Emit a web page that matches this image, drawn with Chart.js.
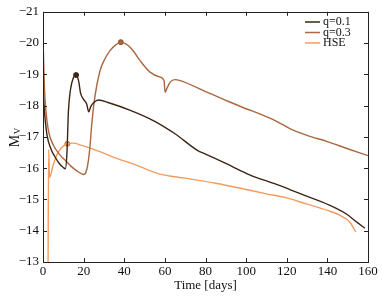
<!DOCTYPE html>
<html>
<head>
<meta charset="utf-8">
<script src="https://cdn.jsdelivr.net/npm/chart.js@4/dist/chart.umd.min.js"></script>
<style>
  html, body { margin: 0; padding: 0; background: #fff; }
  #wrap { width: 382px; height: 296px; }
</style>
</head>
<body>
<div id="wrap"><canvas id="myChart"></canvas></div>
<script>
// series data (time in days, M_V in mag)
const tQ01 = [0, 0.5, 1, 2, 4, 6, 8, 10, 11, 11.8, 12.5, 13.5, 15, 16.3, 17.5, 18.5, 20, 21.5, 22.5, 23.5, 25, 27.5, 32, 43, 55, 65, 76, 80, 90, 102, 115, 126, 141, 149, 155, 158.5];
const mQ01 = [-18.6, -18.0, -17.6, -17.05, -16.6, -16.35, -16.15, -16.02, -15.98, -16.5, -17.8, -18.5, -18.9, -18.98, -18.8, -18.4, -18.2, -18.05, -17.8, -17.97, -18.1, -18.18, -18.1, -17.85, -17.5, -17.1, -16.57, -16.45, -16.15, -15.78, -15.48, -15.2, -14.82, -14.55, -14.25, -14.08];

const tQ03 = [0, 0.5, 1, 2, 3, 5, 8, 11, 14, 17, 20, 21, 22, 23, 24, 25.3, 28, 30.5, 33, 36, 38.3, 40.5, 42.9, 45, 47.8, 52.7, 57.6, 59.6, 60.1, 61, 62.6, 65, 67.5, 80, 90, 100, 107, 115, 122, 130, 140, 150, 160];
const mQ03 = [-20.2, -19.0, -18.2, -17.5, -17.1, -16.75, -16.45, -16.25, -16.05, -15.9, -15.8, -15.85, -16.1, -16.6, -17.4, -18.17, -19.1, -19.5, -19.76, -19.95, -20.03, -19.98, -19.87, -19.7, -19.44, -19.07, -18.91, -18.8, -18.43, -18.55, -18.75, -18.83, -18.8, -18.45, -18.17, -17.9, -17.73, -17.5, -17.25, -17.05, -16.85, -16.62, -16.4];

const tHSE = [2.5, 2.8, 3.2, 5, 7, 9.5, 12, 15, 19, 25, 37, 45, 57, 70, 85, 100, 110, 120, 130, 140, 146, 151, 154];
const mHSE = [-13, -16.6, -15.7, -16.1, -16.45, -16.68, -16.78, -16.8, -16.73, -16.6, -16.3, -16.12, -15.82, -15.68, -15.52, -15.32, -15.18, -15.05, -14.85, -14.65, -14.5, -14.28, -13.96];

// marked points (peaks)
const peakT = [16.3, 38.3, 12];
const peakM = [-18.98, -20.03, -16.78];

const labels = ['q=0.1', 'q=0.3', 'HSE'];
const colors = ['#3d2516', '#a9683f', '#f59b5f'];
const edgeColors = ['#2a170c', '#6e3e20', '#b0582a'];

const xTicks = [0, 20, 40, 60, 80, 100, 120, 140, 160];
const yTicks = [-21, -20, -19, -18, -17, -16, -15, -14, -13];

const serif = '"Liberation Serif", "DejaVu Serif", serif';

function toXY(ts, ms) {
    return ts.map(function(t, i) { return { x: t, y: ms[i] }; });
}

const series = [toXY(tQ01, mQ01), toXY(tQ03, mQ03), toXY(tHSE, mHSE)];

const datasets = series.map(function(pts, i) {
    return {
        label: labels[i],
        data: pts,
        borderColor: colors[i],
        borderWidth: 1.4,
        pointRadius: 0,
        cubicInterpolationMode: 'monotone',
        fill: false
    };
});
peakT.forEach(function(t, i) {
    datasets.push({
        label: '',
        data: [{ x: t, y: peakM[i] }],
        showLine: false,
        pointRadius: 2.5,
        pointBackgroundColor: colors[i],
        pointBorderColor: edgeColors[i],
        pointBorderWidth: 0.8
    });
});

// frame, inward ticks, legend and the y title
const decor = {
    id: 'decor',
    afterDraw(chart) {
        const ctx = chart.ctx;
        const a = chart.chartArea;
        const xs = chart.scales.x, ys = chart.scales.y;
        ctx.save();
        ctx.strokeStyle = '#222';
        ctx.lineWidth = 1;
        ctx.strokeRect(Math.round(a.left) + 0.5, Math.round(a.top) + 0.5, Math.round(a.right - a.left), Math.round(a.bottom - a.top));
        ctx.beginPath();
        xTicks.forEach(function(v) {
            const px = Math.round(xs.getPixelForValue(v)) + 0.5;
            ctx.moveTo(px, a.bottom); ctx.lineTo(px, a.bottom - 4);
            ctx.moveTo(px, a.top); ctx.lineTo(px, a.top + 4);
        });
        yTicks.forEach(function(v) {
            const py = Math.round(ys.getPixelForValue(v)) + 0.5;
            ctx.moveTo(a.left, py); ctx.lineTo(a.left + 4, py);
            ctx.moveTo(a.right, py); ctx.lineTo(a.right - 4, py);
        });
        ctx.stroke();

        // legend
        ctx.font = '12px ' + serif;
        ctx.textBaseline = 'middle';
        ctx.textAlign = 'left';
        labels.forEach(function(l, i) {
            const y = 22 + i * 10.5;
            ctx.strokeStyle = colors[i];
            ctx.lineWidth = 1.5;
            ctx.beginPath();
            ctx.moveTo(305, y); ctx.lineTo(320, y);
            ctx.stroke();
            ctx.fillStyle = '#111';
            ctx.fillText(l, 323, y);
        });

        // y title M_V
        ctx.translate(15, 138);
        ctx.rotate(-Math.PI / 2);
        ctx.fillStyle = '#111';
        ctx.textAlign = 'center';
        ctx.font = '14px ' + serif;
        ctx.fillText('M', -3, 0);
        ctx.font = '9px ' + serif;
        ctx.fillText('V', 7, 3);
        ctx.restore();
    }
};

const config = {
    type: 'line',
    data: { datasets: datasets },
    options: {
        responsive: true,
        maintainAspectRatio: false,
        animation: false,
        layout: { padding: { top: 11, right: 14, left: 0, bottom: 0 } },
        plugins: { legend: { display: false }, tooltip: { enabled: false } },
        scales: {
            x: {
                type: 'linear',
                min: 0,
                max: 160,
                afterFit(s) { s.height = 34; },
                afterBuildTicks(s) { s.ticks = xTicks.map(function(v) { return { value: v }; }); },
                grid: { display: false, drawTicks: false },
                border: { display: false },
                ticks: { color: '#111', padding: 2, font: { family: serif, size: 13 }, maxRotation: 0 },
                title: { display: true, text: 'Time [days]', color: '#111', font: { family: serif, size: 13 }, padding: { top: 0, bottom: 3 } }
            },
            y: {
                type: 'linear',
                min: -21,
                max: -13,
                reverse: true,
                afterFit(s) { s.width = 43; },
                afterBuildTicks(s) { s.ticks = yTicks.map(function(v) { return { value: v }; }); },
                grid: { display: false, drawTicks: false },
                border: { display: false },
                ticks: {
                    color: '#111',
                    padding: 4,
                    font: { family: serif, size: 13 },
                    callback: function(v) { return '\u2212' + Math.abs(v); }
                }
            }
        }
    },
    plugins: [decor]
};

const myChart = new Chart(document.getElementById('myChart'), config);
</script>
</body>
</html>
